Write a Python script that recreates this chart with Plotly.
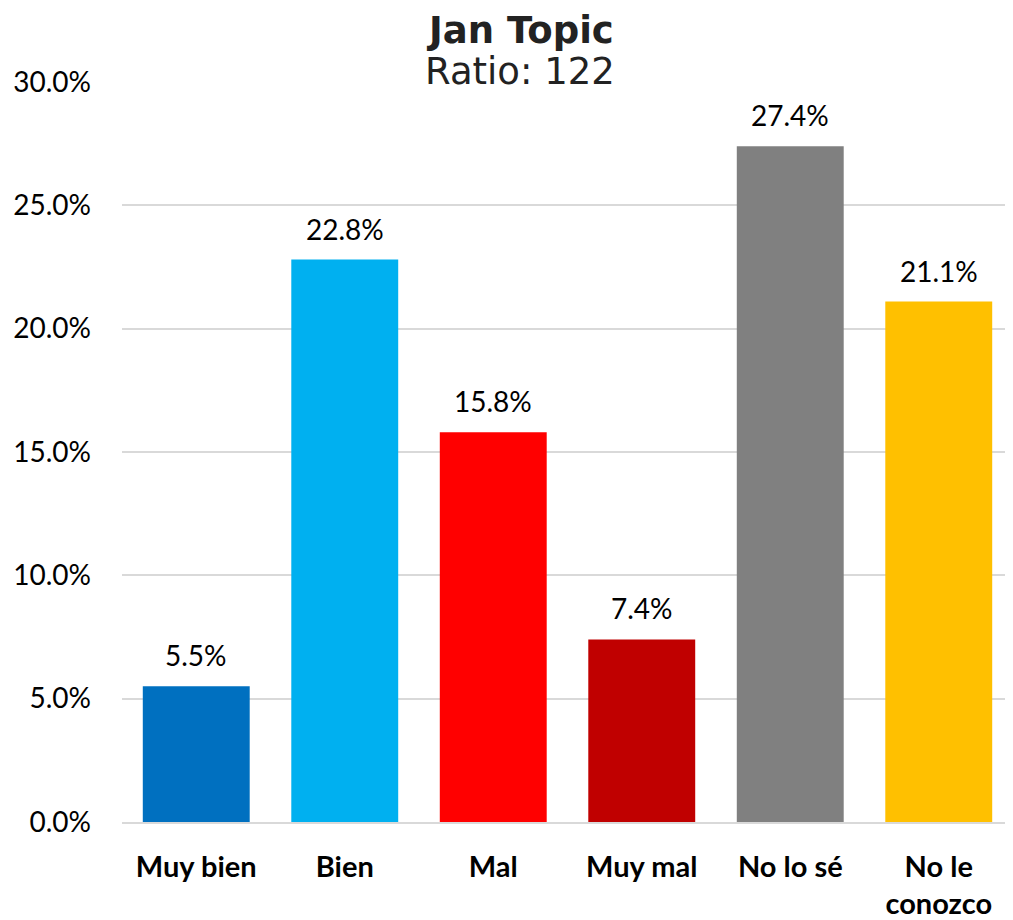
import plotly.graph_objects as go

categories = ["Muy bien", "Bien", "Mal", "Muy mal", "No lo sé", "No le<br>conozco"]
values = [5.5, 22.8, 15.8, 7.4, 27.4, 21.1]
colors = ["#0070C0", "#00B0F0", "#FF0000", "#C00000", "#808080", "#FFC000"]
y_ticks = [0, 5, 10, 15, 20, 25, 30]
y_labels = [f"{v:.1f}%" for v in y_ticks]

FONT = "Lato, Calibri, sans-serif"

fig = go.Figure(go.Bar(
    x=categories,
    y=values,
    marker=dict(color=colors, line=dict(width=0)),
    hoverinfo="skip",
))

# etiquetas de valor encima de cada barra
for c, v in zip(categories, values):
    fig.add_annotation(
        x=c, y=v, text=f"{v:.1f}%",
        showarrow=False, yanchor="bottom", yshift=12,
        font=dict(family=FONT, size=28, color="#000000"),
    )

# título en dos líneas
fig.add_annotation(
    text="<b>Jan Topic</b>", xref="paper", yref="paper", x=0.447, y=1,
    yanchor="middle", yshift=52, showarrow=False,
    font=dict(family="DejaVu Sans", size=37, color="#222222"),
)
fig.add_annotation(
    text="Ratio: 122", xref="paper", yref="paper", x=0.447, y=1,
    yanchor="middle", yshift=11, showarrow=False,
    font=dict(family="DejaVu Sans", size=37, color="#222222"),
)

fig.update_layout(
    width=1005, height=912,
    margin=dict(l=114, r=0, t=74, b=98),
    plot_bgcolor="white", paper_bgcolor="white",
    bargap=0.28,
    showlegend=False,
)

fig.update_yaxes(
    range=[0, 30],
    tickvals=y_ticks, ticktext=y_labels,
    showgrid=True, gridcolor="#D9D9D9", gridwidth=1.5,
    zeroline=False, showline=False,
    ticks="", ticklabelstandoff=30,
    tickfont=dict(family=FONT, size=28, color="#000000"),
)
fig.update_xaxes(
    showgrid=False, showline=True, linecolor="#D9D9D9", linewidth=1.5,
    ticks="", ticklabelstandoff=18,
    tickfont=dict(family=FONT, size=29, color="#000000", weight="bold"),
)

fig.write_html("out.html")
